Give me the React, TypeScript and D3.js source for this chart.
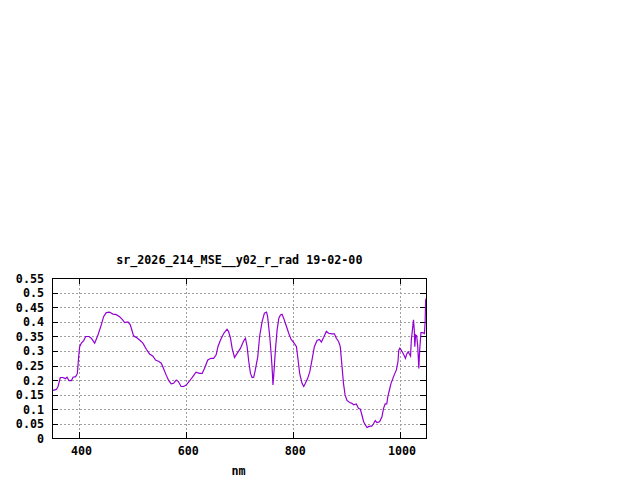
import React, { useRef, useEffect } from 'react';
import * as d3 from 'd3';

const title = 'sr_2026_214_MSE__y02_r_rad 19-02-00';
const xLabel = 'nm';

const xTicks = [400, 600, 800, 1000];
const yTicks = [0, 0.05, 0.1, 0.15, 0.2, 0.25, 0.3, 0.35, 0.4, 0.45, 0.5, 0.55];

// wavelength (nm) and reflectance
const wavelengths = [
  350, 357.6, 360.7, 365, 370, 374.5, 377.6, 381.3, 385.7, 388.8, 393.8, 396.9, 399.4, 401.2, 404.4,
  408.7, 412.5, 418.7, 423, 429.3, 435.5, 441.7, 446, 451, 457, 463.5, 469.8, 476, 481, 485.4,
  491.6, 496, 499.7, 502, 507, 513.4, 519.6, 526, 532, 538, 543.3, 549.5, 554, 558, 563,
  568, 572.6, 577, 582, 586, 591, 595.6, 600.6, 606.9, 613, 619, 625.5, 630.5, 635, 641,
  647, 652, 656.7, 660, 664.8, 671, 677, 680, 683.5, 686.6, 691, 696, 702, 708.5, 711.5,
  714.6, 717.7, 720.9, 724, 727, 730, 734.6, 738, 742.7, 747, 751, 753, 757, 760, 762,
  763, 764.5, 767.6, 770.7, 774, 777, 780, 783, 788, 792.5, 797, 802, 807, 810, 813,
  817.4, 820.6, 823.7, 828, 832, 836, 840.5, 845.5, 850, 853.6, 858, 863, 867, 873.5, 878,
  881.6, 886, 889, 892, 895, 898, 901.6, 906.5, 911, 914, 919, 923, 926.5, 929.5, 932.7,
  936, 939, 942, 945, 948, 951, 954.5, 957.6, 962.6, 967, 970, 973, 976, 978, 981,
  984, 987.5, 990, 994, 997, 998.5, 1000.5, 1003, 1006, 1008.5, 1011, 1013.5, 1016, 1018.5, 1020.5,
  1022, 1024, 1026, 1027.5, 1028.5, 1030, 1032, 1034, 1036, 1037.5, 1040, 1043, 1046.5, 1047.8, 1048.8,
  1050,
];
const reflectance = [
  0.164, 0.168, 0.178, 0.209, 0.209, 0.205, 0.21, 0.198, 0.198, 0.21, 0.212, 0.223, 0.281, 0.315, 0.327,
  0.336, 0.35, 0.35, 0.344, 0.327, 0.355, 0.39, 0.418, 0.432, 0.434, 0.427, 0.425, 0.418, 0.409, 0.398,
  0.4, 0.39, 0.367, 0.352, 0.347, 0.338, 0.327, 0.306, 0.29, 0.283, 0.269, 0.264, 0.258, 0.241, 0.218,
  0.198, 0.187, 0.189, 0.2, 0.195, 0.178, 0.178, 0.183, 0.197, 0.212, 0.227, 0.223, 0.223, 0.241, 0.269,
  0.275, 0.275, 0.287, 0.315, 0.338, 0.361, 0.375, 0.367, 0.344, 0.309, 0.278, 0.292, 0.309, 0.336, 0.344,
  0.315, 0.264, 0.223, 0.209, 0.21, 0.235, 0.281, 0.35, 0.401, 0.43, 0.434, 0.418, 0.35, 0.281, 0.223,
  0.183, 0.218, 0.304, 0.372, 0.413, 0.424, 0.426, 0.413, 0.386, 0.361, 0.34, 0.329, 0.315, 0.269, 0.223,
  0.189, 0.178, 0.189, 0.206, 0.229, 0.269, 0.315, 0.336, 0.34, 0.331, 0.347, 0.368, 0.361, 0.359, 0.359,
  0.344, 0.332, 0.315, 0.252, 0.189, 0.149, 0.13, 0.123, 0.12, 0.115, 0.118, 0.103, 0.1, 0.08, 0.057,
  0.046, 0.037, 0.04, 0.042, 0.042, 0.049, 0.061, 0.054, 0.057, 0.074, 0.103, 0.118, 0.118, 0.143, 0.166,
  0.189, 0.206, 0.218, 0.235, 0.264, 0.303, 0.31, 0.303, 0.294, 0.285, 0.275, 0.29, 0.297, 0.29, 0.283,
  0.338, 0.372, 0.407, 0.372, 0.315, 0.355, 0.352, 0.315, 0.24, 0.3, 0.363, 0.363, 0.36, 0.4, 0.476,
  0.48,
];

const W = 640;
const H = 480;
const margin = { left: 52.3, right: 640 - 426.3, top: 278.3, bottom: 480 - 438.3 };
const font = '"DejaVu Sans Mono", "Liberation Mono", monospace';

const App: React.FC = () => {
  const svgRef = useRef<SVGSVGElement | null>(null);

  useEffect(() => {
    const svg = d3.select(svgRef.current);
    svg.selectAll('*').remove();

    const x = d3.scaleLinear().domain([350, 1050]).range([margin.left, W - margin.right]);
    const y = d3.scaleLinear().domain([0, 0.55]).range([H - margin.bottom, margin.top]);
    const [x0, x1] = x.range();
    const [y0, y1] = y.range();

    svg.append('rect').attr('width', W).attr('height', H).attr('fill', '#fff');

    // grid
    const grid = svg.append('g').attr('stroke', '#a0a0a0').attr('stroke-width', 1)
      .attr('stroke-dasharray', '2,2').attr('shape-rendering', 'crispEdges');
    grid.selectAll('.gy').data(yTicks.slice(1, -1)).join('line')
      .attr('x1', x0).attr('x2', x1)
      .attr('y1', d => Math.round(y(d)) + 0.5).attr('y2', d => Math.round(y(d)) + 0.5);
    grid.selectAll('.gx').data(xTicks).join('line')
      .attr('y1', y0).attr('y2', y1)
      .attr('x1', d => Math.round(x(d)) + 0.5).attr('x2', d => Math.round(x(d)) + 0.5);

    // ticks (inward, mirrored)
    const ticks = svg.append('g').attr('stroke', '#000').attr('shape-rendering', 'crispEdges');
    yTicks.forEach(t => {
      const py = Math.round(y(t)) + 0.5;
      ticks.append('line').attr('x1', x0).attr('x2', x0 + 6).attr('y1', py).attr('y2', py);
      ticks.append('line').attr('x1', x1 - 6).attr('x2', x1).attr('y1', py).attr('y2', py);
    });
    xTicks.forEach(t => {
      const px = Math.round(x(t)) + 0.5;
      ticks.append('line').attr('x1', px).attr('x2', px).attr('y1', y0).attr('y2', y0 - 6);
      ticks.append('line').attr('x1', px).attr('x2', px).attr('y1', y1).attr('y2', y1 + 6);
    });

    // series
    const pts = wavelengths.map((w, i) => [w, reflectance[i]] as [number, number]);
    const line = d3.line<[number, number]>().x(d => x(d[0])).y(d => y(d[1]));
    svg.append('path').datum(pts).attr('d', line).attr('fill', 'none')
      .attr('stroke', '#9400d3').attr('stroke-width', 1.2);

    // frame
    svg.append('rect').attr('x', Math.round(x0) + 0.5).attr('y', Math.round(y1) + 0.5)
      .attr('width', Math.round(x1) - Math.round(x0)).attr('height', Math.round(y0) - Math.round(y1))
      .attr('fill', 'none').attr('stroke', '#000').attr('shape-rendering', 'crispEdges');

    const text = svg.append('g').attr('font-family', font).attr('font-size', 11.7)
      .attr('font-weight', 'bold').attr('fill', '#000');

    text.selectAll('.yl').data(yTicks).join('text')
      .attr('x', 44).attr('y', d => y(d)).attr('dy', '0.38em').attr('text-anchor', 'end')
      .text(d => d3.format('~g')(d));
    text.selectAll('.xl').data(xTicks).join('text')
      .attr('x', d => x(d) + 2.5).attr('y', 455).attr('text-anchor', 'middle')
      .text(d => String(d));
    text.append('text').attr('x', (x0 + x1) / 2).attr('y', 264).attr('text-anchor', 'middle').text(title);
    text.append('text').attr('x', 238.5).attr('y', 475).attr('text-anchor', 'middle').text(xLabel);
  }, []);

  return (
    <svg ref={svgRef} width={W} height={H}
      style={{ position: 'absolute', left: 0, top: 0, display: 'block' }} />
  );
};

export default App;
